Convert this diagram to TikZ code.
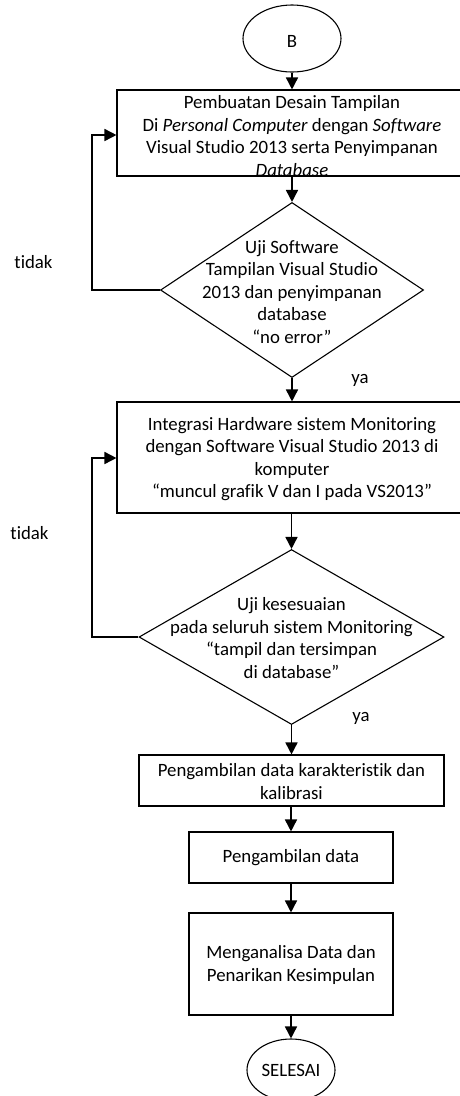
\documentclass[tikz,border=0pt]{standalone}
\usepackage{fontspec}
\setmainfont{Carlito}[Ligatures={NoCommon}]
\usetikzlibrary{shapes.geometric,arrows.meta}
\begin{document}
\begin{tikzpicture}[x=1pt,y=-1pt,
  every node/.style={font=\fontsize{18.8pt}{22.5pt}\selectfont},
  box/.style={draw, line width=1.1pt, rectangle, inner sep=0pt},
  term/.style={draw, line width=1.1pt, ellipse, inner sep=0pt},
  decision/.style={draw, line width=1.1pt, diamond, inner sep=0pt},
  txt/.style={align=center, inner sep=0pt},
  arr/.style={line width=1.6pt, -{Triangle[length=12pt,width=12pt]}},
  loopline/.style={line width=1.6pt, -{Triangle[length=12pt,width=12pt]}}
]
\useasboundingbox (0,0) rectangle (460,1096);

% terminal B
\node[term, minimum width=98pt, minimum height=67pt] (B) at (292,38.5) {};
\node[txt] at (292,41) {B};

% box 1
\node[box, minimum width=350pt, minimum height=86pt] (b1) at (292,133) {};
\node[txt] at (292,136) {Pembuatan Desain Tampilan\\
Di \textit{Personal Computer} dengan \textit{Software}\\
Visual Studio 2013 serta Penyimpanan\\
\textit{Database}};

% decision 1
\node[decision, minimum width=263pt, minimum height=175pt] (d1) at (292,290) {};
\node[txt] at (292,292) {Uji Software\\ Tampilan Visual Studio\\ 2013 dan penyimpanan\\ database\\ \textquotedblleft no error\textquotedblright};

% box 2
\node[box, minimum width=350pt, minimum height=111pt] (b2) at (292,457.5) {};
\node[txt] at (292,459) {Integrasi Hardware sistem Monitoring\\
dengan Software Visual Studio 2013 di\\
komputer\\
\textquotedblleft muncul grafik V dan I pada VS2013\textquotedblright};

% decision 2
\node[decision, minimum width=305pt, minimum height=175pt] (d2) at (291.5,637) {};
\node[txt] at (291.5,638) {Uji kesesuaian\\ pada seluruh sistem Monitoring\\ \textquotedblleft tampil dan tersimpan\\ di database\textquotedblright};

% box 3
\node[box, minimum width=305pt, minimum height=51pt] (b3) at (291.5,780.5) {};
\node[txt] at (291.5,781.5) {Pengambilan data karakteristik dan\\ kalibrasi};

% box 4
\node[box, minimum width=204pt, minimum height=51pt] (b4) at (291,857.5) {};
\node[txt] at (291,857.5) {Pengambilan data};

% box 5
\node[box, minimum width=204pt, minimum height=102pt] (b5) at (291,964) {};
\node[txt] at (291,965) {Menganalisa Data dan\\ Penarikan Kesimpulan};

% terminal SELESAI
\node[term, minimum width=88pt, minimum height=62pt] (E) at (291,1070) {};
\node[txt] at (291,1070) {SELESAI};

% labels
\node[txt] (t1) at (33.5,262) {tidak};
\node[txt] (t2) at (29.5,533) {tidak};
\node[txt] (y1) at (360,380) {ya};
\node[txt] (y2) at (361,718) {ya};

% connectors
\draw[arr] (B.south) -- (b1.north -| B.south);
\draw[arr] (b1.south -| d1.north) -- (d1.north);
\draw[arr] (d1.south) -- (b2.north -| d1.south);
\draw[arr] (b2.south -| d2.north) -- (d2.north);
\draw[arr] (d2.south) -- (b3.north -| d2.south);
\draw[arr] (b3.south -| b4.north) -- (b4.north);
\draw[arr] (b4.south) -- (b5.north);
\draw[arr] (b5.south) -- (E.north);

\coordinate (l1) at (92,290);
\coordinate (l2) at (92,637);
\draw[loopline] (d1.west) -- (l1) |- (b1.west |- 0,135);
\draw[loopline] (d2.west) -- (l2) |- (b2.west |- 0,458);
\end{tikzpicture}
\end{document}
